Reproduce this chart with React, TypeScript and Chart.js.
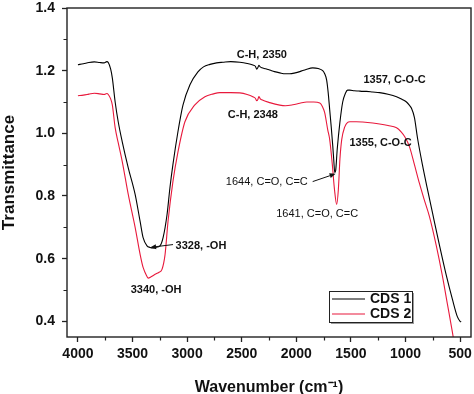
import React, { useEffect, useRef } from 'react';
import { Chart, registerables } from 'chart.js';

Chart.register(...registerables);

// ---- data (wavenumber, cm-1  /  transmittance) ----
const wnCDS1 = [4000, 3950, 3900, 3850, 3800, 3760, 3735, 3722, 3700, 3685, 3659, 3631, 3594, 3539, 3476, 3430, 3403, 3367, 3340, 3321, 3290, 3248, 3220, 3184, 3157, 3130, 3084, 3038, 2974, 2901, 2850, 2791, 2730, 2672, 2600, 2517, 2450, 2398, 2375, 2362, 2352, 2343, 2330, 2316, 2280, 2243, 2200, 2151, 2100, 2060, 2010, 1968, 1910, 1850, 1800, 1758, 1740, 1722, 1708, 1694, 1680, 1666, 1656, 1648, 1640, 1625, 1601, 1575, 1550, 1530, 1510, 1470, 1430, 1392, 1357, 1300, 1237, 1160, 1082, 1030, 991, 965, 945, 918, 890, 845, 798, 752, 690, 625, 570, 525, 500, 490];
const tCDS1 = [1.219, 1.222, 1.226, 1.228, 1.226, 1.225, 1.229, 1.226, 1.205, 1.177, 1.1, 1.037, 0.973, 0.89, 0.805, 0.718, 0.667, 0.641, 0.636, 0.634, 0.636, 0.641, 0.667, 0.74, 0.827, 0.9, 1.005, 1.09, 1.155, 1.196, 1.212, 1.22, 1.225, 1.227, 1.229, 1.227, 1.223, 1.218, 1.214, 1.205, 1.21, 1.217, 1.212, 1.209, 1.206, 1.202, 1.197, 1.193, 1.19, 1.19, 1.193, 1.197, 1.204, 1.209, 1.207, 1.2, 1.19, 1.17, 1.13, 1.075, 1.02, 0.96, 0.91, 0.875, 0.88, 0.95, 1.034, 1.1, 1.128, 1.138, 1.138, 1.136, 1.135, 1.134, 1.134, 1.132, 1.13, 1.125, 1.117, 1.108, 1.1, 1.09, 1.08, 1.05, 0.985, 0.9, 0.82, 0.745, 0.645, 0.545, 0.47, 0.415, 0.4, 0.398];

const wnCDS2 = [4000, 3950, 3900, 3850, 3800, 3760, 3735, 3722, 3700, 3685, 3659, 3631, 3594, 3539, 3476, 3430, 3403, 3367, 3357, 3330, 3293, 3260, 3230, 3202, 3175, 3130, 3084, 3020, 2929, 2837, 2760, 2700, 2600, 2517, 2450, 2398, 2375, 2362, 2352, 2343, 2330, 2316, 2243, 2151, 2100, 2032, 1968, 1904, 1840, 1785, 1760, 1740, 1712, 1694, 1670, 1650, 1630, 1615, 1600, 1584, 1557, 1530, 1510, 1450, 1392, 1300, 1237, 1160, 1082, 1040, 1008, 963, 918, 872, 830, 781, 717, 662, 616, 570, 540];
const tCDS2 = [1.12, 1.122, 1.125, 1.128, 1.126, 1.124, 1.127, 1.124, 1.11, 1.091, 1.018, 0.97, 0.91, 0.805, 0.7, 0.613, 0.572, 0.543, 0.538, 0.542, 0.55, 0.556, 0.566, 0.613, 0.718, 0.846, 0.94, 1.037, 1.091, 1.117, 1.126, 1.13, 1.13, 1.129, 1.124, 1.117, 1.112, 1.104, 1.108, 1.117, 1.11, 1.107, 1.098, 1.09, 1.088, 1.091, 1.096, 1.1, 1.1, 1.097, 1.085, 1.066, 1.011, 0.98, 0.9, 0.82, 0.773, 0.82, 0.92, 0.98, 1.02, 1.035, 1.037, 1.037, 1.036, 1.033, 1.03, 1.025, 1.018, 1.005, 0.99, 0.957, 0.9, 0.84, 0.79, 0.735, 0.64, 0.545, 0.455, 0.365, 0.3];

const seriesLabels = ['CDS 1', 'CDS 2'];
const seriesColors = ['#000000', '#e8193c'];

const xTickValues = [500, 1000, 1500, 2000, 2500, 3000, 3500, 4000];
const xMinorValues = [750, 1250, 1750, 2250, 2750, 3250, 3750];
const yTickValues = [0.4, 0.6, 0.8, 1.0, 1.2, 1.4];
const yMinorValues = [0.5, 0.7, 0.9, 1.1, 1.3];

// peak annotations (text anchored at wavenumber / transmittance)
const noteTexts = ['C-H, 2350', 'C-H, 2348', '1357, C-O-C', '1355, C-O-C', '1644, C=O, C=C', '1641, C=O, C=C', '3328, -OH', '3340, -OH'];
const noteWn = [2316, 2398, 1100, 1228, 2270, 1809, 2873, 3284];
const noteT = [1.25, 1.059, 1.171, 0.97, 0.846, 0.744, 0.642, 0.499];
const noteBold = [true, true, true, true, false, false, true, true];
// arrows: [fromWn, fromT, toWn, toT]
const arrows = [
  [3129, 0.645, 3339, 0.636],
  [1850, 0.846, 1640, 0.871],
];

const FONT = "'Liberation Sans', Arial, Helvetica, sans-serif";

const overlayPlugin = {
  id: 'overlay',
  afterDatasetsDraw(chart: any) {
    const { ctx, scales } = chart;
    const x = scales.x;
    const y = scales.y;
    ctx.save();
    ctx.fillStyle = '#111';
    ctx.textAlign = 'center';
    ctx.textBaseline = 'middle';
    for (let i = 0; i < noteTexts.length; i++) {
      ctx.font = (noteBold[i] ? 'bold ' : '') + '11px ' + FONT;
      ctx.fillText(noteTexts[i], x.getPixelForValue(noteWn[i]), y.getPixelForValue(noteT[i]));
    }
    ctx.strokeStyle = '#111';
    ctx.lineWidth = 1;
    for (const a of arrows) {
      const x1 = x.getPixelForValue(a[0]);
      const y1 = y.getPixelForValue(a[1]);
      const x2 = x.getPixelForValue(a[2]);
      const y2 = y.getPixelForValue(a[3]);
      const ang = Math.atan2(y2 - y1, x2 - x1);
      const hl = 6;
      const hw = 2.5;
      const bx = x2 - hl * Math.cos(ang);
      const by = y2 - hl * Math.sin(ang);
      ctx.beginPath();
      ctx.moveTo(x1, y1);
      ctx.lineTo(bx, by);
      ctx.stroke();
      ctx.beginPath();
      ctx.moveTo(x2, y2);
      ctx.lineTo(bx + hw * Math.sin(ang), by - hw * Math.cos(ang));
      ctx.lineTo(bx - hw * Math.sin(ang), by + hw * Math.cos(ang));
      ctx.closePath();
      ctx.fill();
    }
    ctx.restore();
  },
  afterDraw(chart: any) {
    const { ctx, chartArea: a, scales } = chart;
    const x = scales.x;
    const y = scales.y;
    ctx.save();
    // minor ticks
    ctx.strokeStyle = '#222';
    ctx.lineWidth = 1.2;
    ctx.beginPath();
    for (const v of xMinorValues) {
      const p = Math.round(x.getPixelForValue(v)) + 0.5;
      ctx.moveTo(p, a.bottom);
      ctx.lineTo(p, a.bottom + 3.5);
    }
    for (const v of yMinorValues) {
      const p = Math.round(y.getPixelForValue(v)) + 0.5;
      ctx.moveTo(a.left, p);
      ctx.lineTo(a.left - 3.5, p);
    }
    ctx.stroke();
    // frame
    ctx.lineWidth = 1.4;
    ctx.strokeRect(a.left, a.top, a.right - a.left, a.bottom - a.top);

    // legend
    const lx = a.right - 142;
    const ly = a.bottom - 46;
    const lw = 83;
    const lh = 31;
    ctx.fillStyle = '#9a9a9a';
    ctx.fillRect(lx + 2, ly + 2, lw, lh);
    ctx.fillStyle = '#ffffff';
    ctx.fillRect(lx, ly, lw, lh);
    ctx.strokeStyle = '#222';
    ctx.lineWidth = 1;
    ctx.strokeRect(lx + 0.5, ly + 0.5, lw, lh);
    ctx.font = 'bold 14px ' + FONT;
    ctx.textAlign = 'left';
    ctx.textBaseline = 'middle';
    for (let i = 0; i < seriesLabels.length; i++) {
      const yy = ly + 8 + i * 15;
      ctx.strokeStyle = seriesColors[i];
      ctx.lineWidth = 1.1;
      ctx.beginPath();
      ctx.moveTo(lx + 3, yy);
      ctx.lineTo(lx + 36, yy);
      ctx.stroke();
      ctx.fillStyle = '#111';
      ctx.fillText(seriesLabels[i], lx + 41, yy + 0.5);
    }
    ctx.restore();
  },
};

export default function App() {
  const ref = useRef<HTMLCanvasElement | null>(null);

  useEffect(() => {
    document.body.style.margin = '0';
    const canvas = ref.current;
    if (!canvas) return;
    const chart = new Chart(canvas, {
      type: 'line',
      data: {
        datasets: [
          {
            label: seriesLabels[0],
            data: wnCDS1.map((w, i) => ({ x: w, y: tCDS1[i] })),
            borderColor: seriesColors[0],
            borderWidth: 1.1,
            pointRadius: 0,
            cubicInterpolationMode: 'monotone',
            fill: false,
          },
          {
            label: seriesLabels[1],
            data: wnCDS2.map((w, i) => ({ x: w, y: tCDS2[i] })),
            borderColor: seriesColors[1],
            borderWidth: 1.1,
            pointRadius: 0,
            cubicInterpolationMode: 'monotone',
            fill: false,
          },
        ],
      },
      options: {
        animation: false,
        responsive: false,
        devicePixelRatio: 1,
        layout: { padding: { left: 0, right: 3, top: 8, bottom: 0 } },
        plugins: { legend: { display: false }, tooltip: { enabled: false } },
        scales: {
          x: {
            type: 'linear',
            reverse: true,
            min: 400,
            max: 4100,
            afterFit: (s: any) => { s.height = 57; s.paddingLeft = 0; s.paddingRight = 0; },
            afterBuildTicks: (s: any) => { s.ticks = xTickValues.map((v) => ({ value: v })); },
            ticks: {
              autoSkip: false,
              maxRotation: 0,
              padding: 4,
              color: '#111',
              font: { family: FONT, size: 14, weight: 'bold', lineHeight: 1.2 },
              callback: (v: any) => String(v),
            },
            grid: { drawOnChartArea: false, drawTicks: true, tickLength: 5, tickColor: '#222', tickWidth: 1.3 },
            border: { display: false },
            title: {
              display: true,
              text: 'Wavenumber (cm⁻¹)',
              color: '#111',
              font: { family: FONT, size: 16, weight: 'bold', lineHeight: 1 },
              padding: { top: 0, bottom: -2 },
            },
          },
          y: {
            type: 'linear',
            min: 0.35,
            max: 1.4,
            afterFit: (s: any) => { s.width = 67; s.paddingTop = 0; s.paddingBottom = 0; },
            afterBuildTicks: (s: any) => { s.ticks = yTickValues.map((v) => ({ value: v })); },
            ticks: {
              autoSkip: false,
              padding: 7,
              color: '#111',
              font: { family: FONT, size: 14, weight: 'bold', lineHeight: 1 },
              callback: (v: any) => Number(v).toFixed(1),
            },
            grid: { drawOnChartArea: false, drawTicks: true, tickLength: 5, tickColor: '#222', tickWidth: 1.3 },
            border: { display: false },
            title: {
              display: true,
              text: 'Transmittance',
              color: '#111',
              font: { family: FONT, size: 17, weight: 'bold', lineHeight: 1 },
              padding: { top: 0.5, bottom: 0 },
            },
          },
        },
      },
      plugins: [overlayPlugin],
    } as any);
    return () => chart.destroy();
  }, []);

  return (
    <div style={{ width: 474, height: 394, background: '#fff' }}>
      <canvas ref={ref} width={474} height={394} style={{ display: 'block' }} />
    </div>
  );
}
